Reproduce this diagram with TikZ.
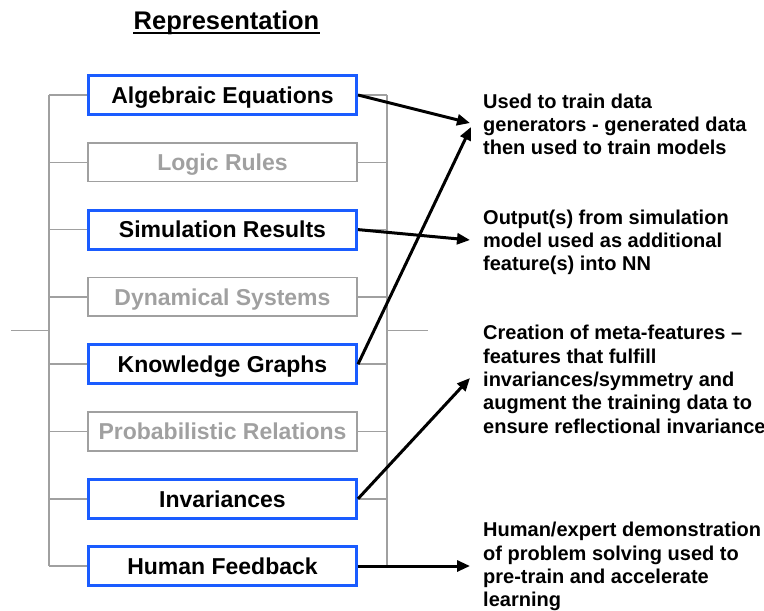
\documentclass[tikz,border=0pt]{standalone}
\usepackage{fontspec}
\setmainfont{Liberation Sans}
\usetikzlibrary{arrows.meta}
\usetikzlibrary{positioning}

\definecolor{boxblue}{RGB}{26,92,255}
\definecolor{boxgrey}{RGB}{160,160,160}

\tikzset{
  repbox/.style={draw=boxblue, line width=3pt, minimum width=268pt, minimum height=39pt, inner sep=0pt, text height=16.5pt, text depth=0pt, font=\fontsize{23}{27}\selectfont\bfseries},
  fadedbox/.style={repbox, draw=boxgrey, line width=1.6pt, text=boxgrey, minimum width=269pt, minimum height=38.5pt},
  bracket/.style={draw=boxgrey, line width=1.6pt},
  usage/.style={-{Triangle[length=13pt,width=11pt]}, line width=3pt},
  note/.style={anchor=north west, align=left, inner sep=0pt, font=\fontsize{20}{23.4}\selectfont\bfseries}
}

\begin{document}
\begin{tikzpicture}[x=1pt, y=-1pt]
\useasboundingbox (0,0) rectangle (764,611);

\node[anchor=base, inner sep=0pt, font=\fontsize{25.5}{30}\selectfont\bfseries] (title) at (226.5,29.5) {Representation};
\draw[line width=2pt] ([yshift=-3pt]title.base west) -- ([yshift=-3pt]title.base east);

% representation boxes
\node[repbox] (alg) at (222.5,95) {Algebraic Equations};
\node[fadedbox] (logic) at (222.5,162.3) {Logic Rules};
\node[repbox] (sim) at (222.5,229.6) {Simulation Results};
\node[fadedbox] (dyn) at (222.5,296.9) {Dynamical Systems};
\node[repbox] (know) at (222.5,364.2) {Knowledge Graphs};
\node[fadedbox] (prob) at (222.5,431.5) {Probabilistic Relations};
\node[repbox] (inv) at (222.5,498.8) {Invariances};
\node[repbox] (hum) at (222.5,566) {Human Feedback};

% bracket
\foreach \n in {alg,logic,sim,dyn,know,prob,inv,hum}
  \draw[bracket] (\n.west) -- ++(-38,0) (\n.east) -- ++(29,0);
\draw[bracket] ([xshift=-38pt]alg.west) -- ([xshift=-38pt]hum.west);
\draw[bracket] ([xshift=29pt]alg.east) -- ([xshift=29pt]hum.east);
\coordinate (midl) at (49,330.5);
\coordinate (midr) at (387,330.5);
\draw[bracket] (midl) -- ++(-38,0);
\draw[bracket] (midr) -- ++(41,0);

% notes
\node[note] (n1) at (483,93.5) {Used to train data\\generators - generated data\\then used to train models};
\node[note] (n2) at (483,209.5) {Output(s) from simulation\\model used as additional\\feature(s) into NN};
\node[note] (n3) at (483,325) {Creation of meta-features --\\features that fulfill\\invariances/symmetry and\\augment the training data to\\ensure reflectional invariance};
\node[note] (n4) at (483,522) {Human/expert demonstration\\of problem solving used to\\pre-train and accelerate\\learning};

\coordinate (t1) at (470,123);
\coordinate (t1b) at (471,127);
\coordinate (t2) at (470,240);
\coordinate (t3) at (470,378);
\coordinate (t4) at (470,566);

\draw[usage] (alg.east) -- (t1);
\draw[usage] (know.east) -- (t1b);
\draw[usage] (sim.east) -- (t2);
\draw[usage] (inv.east) -- (t3);
\draw[usage] (hum.east) -- (t4);

\end{tikzpicture}
\end{document}
